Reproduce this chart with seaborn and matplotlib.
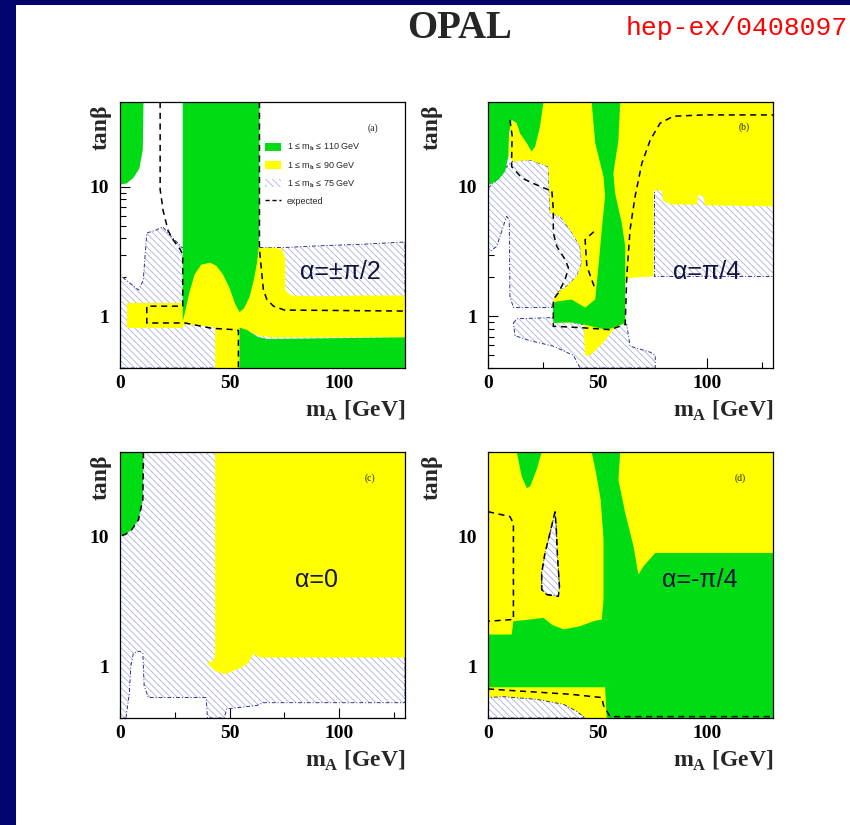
import matplotlib
matplotlib.use("Agg")
import matplotlib.pyplot as plt
import seaborn as sns
from matplotlib.lines import Line2D
from matplotlib.patches import Patch, Rectangle
from matplotlib.ticker import NullFormatter

GREEN = "#00dc14"
YELLOW = "#ffff00"
HATCH_COL = "#a9b1e4"
HATCH_EDGE = "#303090"
NAVY = "#03036e"
HATCH = "\\\\\\\\\\"

X_RANGE = (0, 130)
Y_RANGE = (0.4, 45)

# ---- panel (a): alpha = +-pi/2 ----  (m_A [GeV], tan beta)
a_hatch = [(0, 0.4), (0, 2.08), (8.4, 1.6), (10.6, 1.9), (12.2, 4.4), (16, 4.6),
           (19.5, 4.9), (23, 4.2), (28.3, 3.4), (63.6, 3.4), (75, 3.4), (90, 3.5),
           (110, 3.6), (130, 3.75), (130, 0.4)]
a_yellow_1 = [(3.0, 0.81), (3.0, 1.27), (28.6, 1.27), (28.6, 0.81)]
a_yellow_2 = [(28.6, 0.87), (28.6, 3.0), (63.6, 3.37), (70, 3.4), (74, 3.3), (75.3, 2.8),
              (75.3, 1.6), (78, 1.45), (90, 1.43), (110, 1.45), (130, 1.45), (130, 0.69),
              (70, 0.69), (63, 0.71), (58, 0.78), (54.5, 0.82), (54.5, 0.4), (43.4, 0.4),
              (43.4, 0.83), (36, 0.85)]
a_green_1 = [(0, 45), (10.7, 45), (10.4, 19.3), (8.8, 13.8), (6.1, 11.7), (3, 10.6), (0, 10.4)]
a_green_2 = [(28.6, 45), (28.6, 0.92), (29.5, 1.05), (31.5, 1.5), (34, 2.1), (37, 2.5),
             (41.1, 2.6), (44, 2.45), (47, 2.1), (50, 1.65), (52.5, 1.25), (54.5, 1.08),
             (56.5, 1.15), (59, 1.4), (61, 1.9), (62.5, 2.6), (63.3, 3.5), (63.6, 6), (63.6, 45)]
a_green_3 = [(54.5, 0.4), (54.5, 0.82), (57.8, 0.79), (62.4, 0.7), (67, 0.67), (130, 0.69), (130, 0.4)]
a_expected_1 = [(18.3, 45), (18.3, 9.5), (19, 7.9), (19.6, 6.6), (21.9, 4.6), (24.2, 3.9),
                (27.4, 3.3), (28.6, 3.0), (28.6, 1.2), (12.2, 1.2), (12.2, 0.89), (29.7, 0.89),
                (41.9, 0.81), (52.5, 0.79), (54, 0.78), (54, 0.4)]
a_expected_2 = [(63.6, 45), (63.6, 3.3), (64.5, 2.3), (65.4, 1.6), (67, 1.35), (70, 1.2),
                (75, 1.12), (130, 1.1)]

# ---- panel (b): alpha = pi/4 ----
b_hatch_1 = [(0, 9.76), (4.0, 11.3), (8.5, 14.3), (11.6, 15.9), (19.2, 16.1), (27.5, 14.3),
             (28.3, 6.27), (32.9, 5.91), (37.4, 4.67), (42.0, 3.47), (42.8, 2.59), (40.5, 2.04),
             (35.9, 1.71), (31.4, 1.52), (29.1, 1.17), (11.6, 1.17), (10.0, 1.43), (9.7, 5.57),
             (8.5, 5.91), (4.0, 3.47), (0, 3.09)]
b_hatch_2 = [(11.6, 0.89), (13.1, 0.96), (29.8, 0.98), (42.0, 0.87), (63.3, 0.87), (64.8, 0.59),
             (74.0, 0.53), (76.3, 0.50), (76.3, 0.4), (42.0, 0.4), (39.0, 0.5), (29.8, 0.59),
             (19.2, 0.65), (12.3, 0.71)]
b_hatch_3 = [(75.5, 9.6), (130, 9.6), (130, 2.04), (75.5, 2.04)]
b_yellow = [(9.3, 17.1), (10.0, 32.8), (13.1, 30.9), (25.3, 45), (130, 45), (130, 7.06),
            (99, 7.2), (98.3, 8.4), (96, 8.7), (95.3, 7.3), (83.1, 7.3), (80, 7.8), (79.3, 9.2),
            (77.5, 9.5), (75.5, 9.2), (75.5, 2.04), (64.8, 1.98), (62.6, 1.87), (62.6, 0.89),
            (57.2, 0.79), (52.7, 0.63), (46.6, 0.50), (44.3, 0.50), (43.5, 0.89), (29.8, 0.89),
            (29.8, 1.35), (31.4, 1.52), (35.9, 1.71), (40.5, 2.04), (42.8, 2.59), (42.0, 3.47),
            (37.4, 4.67), (32.9, 5.91), (28.3, 6.27), (27.5, 14.3), (19.2, 16.1), (11.6, 15.6)]
b_green_1 = [(0, 45), (25.3, 45), (23.7, 29), (21.5, 20.4), (19.9, 18.7), (17.7, 21.7),
             (14.6, 25.8), (13.1, 30.9), (10.8, 32.8), (9.6, 25.8), (9.3, 17.1), (7.8, 13.1),
             (4.7, 11.3), (0.9, 10.4), (0, 10.4)]
b_green_2 = [(47.3, 45), (60.3, 45), (59.5, 22.9), (57.2, 12.7), (58.0, 8.9), (61.0, 5.26),
             (62.6, 3.47), (62.6, 0.89), (57.2, 0.82), (54.2, 0.79), (49.6, 0.82), (43.5, 0.87),
             (37.4, 0.9), (29.8, 0.89), (29.5, 1.27), (32.1, 1.31), (38.2, 1.35), (44.3, 1.17),
             (48.9, 1.35), (50.4, 2.44), (51.9, 4.67), (53.4, 8.42), (52.7, 12.0), (48.9, 21.7)]
b_expected_1 = [(10.0, 32.8), (11.0, 25.0), (10.8, 16.0), (10.8, 14.3), (15.4, 11.7),
                (20.7, 10.6), (27.5, 9.48), (29.1, 9.48), (29.8, 6.65), (29.8, 4.4), (31.4, 3.47),
                (35.2, 2.74), (36.7, 2.37), (35.2, 1.93), (32.1, 1.52), (29.8, 1.35), (29.8, 0.84),
                (42.0, 0.82), (55.7, 0.79), (62.6, 0.87), (63.3, 2.04), (64.8, 4.67), (67.1, 8.42),
                (70.2, 15.2), (74.0, 22.9), (78.5, 30.9), (84.6, 35.0), (98.3, 35.8), (130, 35.8)]
b_expected_2 = [(48.4, 1.71), (45.1, 2.44), (44.3, 3.91), (49.3, 4.67)]

# ---- panel (c): alpha = 0 ----
c_hatch = [(0, 45), (130, 45), (130, 0.525), (65.4, 0.525), (62.4, 0.50), (48.7, 0.47),
           (47.5, 0.4), (39.9, 0.4), (39.3, 0.575), (12.9, 0.575), (11.0, 0.71), (10.4, 1.27),
           (8.8, 1.31), (6.1, 1.27), (4.9, 1.0), (4.3, 0.63), (2.7, 0.4), (0, 0.4)]
c_yellow = [(43.4, 45), (130, 45), (130, 1.17), (63.9, 1.17), (61.6, 1.24), (60.1, 1.20),
            (58.6, 1.07), (56.3, 1.0), (53.3, 0.95), (47.9, 0.87), (43.4, 0.92), (39.6, 1.07),
            (42.6, 1.10), (43.4, 1.27)]
c_green = [(0, 45), (10.7, 45), (10.4, 19.3), (8.4, 13.5), (5.3, 11.3), (2.3, 10.4), (0, 10.1)]
c_expected = [(10.7, 45), (10.4, 19.3), (8.4, 13.5), (5.3, 11.3), (2.3, 10.4), (0, 10.1)]

# ---- panel (d): alpha = -pi/4 ----
d_yellow = [(0, 0.4), (0, 45), (130, 45), (130, 0.4)]
d_green_1 = [(13.1, 45), (24.5, 45), (22.2, 32.8), (19.2, 24.4), (17.7, 23.7), (15.4, 29.1)]
d_green_2 = [(47.3, 45), (60.3, 45), (59.5, 27.4), (62.6, 15.2), (66.4, 8.42), (68.6, 5.10),
             (70.9, 5.91), (76.3, 7.49), (130, 7.49), (130, 0.4), (54.2, 0.4), (53.4, 0.69),
             (0, 0.69), (0, 1.76), (10.8, 1.76), (11.6, 2.23), (19.2, 2.30), (25.3, 2.37),
             (29.1, 2.10), (34.4, 1.93), (42.0, 2.04), (48.1, 2.23), (51.9, 2.30), (52.7, 3.28),
             (52.7, 9.48), (51.4, 19.3), (49.3, 30.9)]
d_hatch_1 = [(0, 0.4), (0, 0.575), (7.0, 0.584), (22.2, 0.557), (34.4, 0.51), (40.5, 0.45), (44.3, 0.4)]
d_hatch_2 = [(30.6, 15.6), (28.3, 10.7), (26.0, 7.49), (24.5, 5.26), (24.5, 3.91), (26.8, 3.58),
             (32.1, 3.47), (32.6, 4.14), (31.7, 7.06), (31.1, 12.0)]
d_expected_1 = [(0, 15.6), (10, 14.3), (11.6, 12.7), (11.6, 2.3), (0, 2.23)]
d_expected_2 = [(0, 0.67), (11.6, 0.65), (37.4, 0.61), (51.9, 0.575), (52.7, 0.5),
                (55.7, 0.41), (130, 0.41)]
d_expected_3 = d_hatch_2 + d_hatch_2[:1]

legend_labels = ["1 \u2264 m$_\\mathrm{h}$ \u2264 110 GeV", "1 \u2264 m$_\\mathrm{h}$ \u2264 90 GeV",
                 "1 \u2264 m$_\\mathrm{h}$ \u2264 75 GeV", "expected"]

panels = [
    dict(pos=[0.1412, 0.5539, 0.3353, 0.3224], tag="(a)", alpha="\u03b1=\u00b1\u03c0/2",
         alpha_xy=(0.772, 0.361), tag_xy=(0.888, 0.902), ylab_x=-0.03,
         layers=[("hatch", a_hatch), ("yellow", a_yellow_1), ("yellow", a_yellow_2),
                 ("green", a_green_1), ("green", a_green_2), ("green", a_green_3)],
         expected=[a_expected_1, a_expected_2]),
    dict(pos=[0.5741, 0.5539, 0.3353, 0.3224], tag="(b)", alpha="\u03b1=\u03c0/4",
         alpha_xy=(0.768, 0.361), tag_xy=(0.90, 0.906), ylab_x=-0.158,
         layers=[("hatch", b_hatch_1), ("hatch", b_hatch_2), ("hatch", b_hatch_3),
                 ("yellow", b_yellow), ("green", b_green_1), ("green", b_green_2)],
         expected=[b_expected_1, b_expected_2]),
    dict(pos=[0.1412, 0.1297, 0.3353, 0.3224], tag="(c)", alpha="\u03b1=0",
         alpha_xy=(0.691, 0.519), tag_xy=(0.877, 0.902), ylab_x=-0.03,
         layers=[("hatch", c_hatch), ("yellow", c_yellow), ("green", c_green)],
         expected=[c_expected]),
    dict(pos=[0.5741, 0.1297, 0.3353, 0.3224], tag="(d)", alpha="\u03b1=-\u03c0/4",
         alpha_xy=(0.744, 0.519), tag_xy=(0.884, 0.902), ylab_x=-0.158,
         layers=[("yellow", d_yellow), ("green", d_green_1), ("green", d_green_2),
                 ("hatch", d_hatch_1), ("hatch", d_hatch_2)],
         expected=[d_expected_1, d_expected_2, d_expected_3]),
]


def draw_region(ax, pts, kind, z):
    xs = [p[0] for p in pts]
    ys = [p[1] for p in pts]
    if kind == "hatch":
        ax.fill(xs, ys, facecolor="white", edgecolor=HATCH_COL, hatch=HATCH,
                linewidth=0, zorder=z)
        ax.fill(xs, ys, facecolor="none", edgecolor=HATCH_EDGE, linewidth=0.7,
                linestyle=(0, (4, 2, 1, 2)), zorder=z + 0.05)
    else:
        ax.fill(xs, ys, facecolor=GREEN if kind == "green" else YELLOW,
                edgecolor="none", zorder=z)


sns.set_theme(style="white")
plt.rcParams["hatch.linewidth"] = 0.6
plt.rcParams["hatch.color"] = HATCH_COL
plt.rcParams["mathtext.fontset"] = "custom"
plt.rcParams["mathtext.rm"] = "Liberation Serif:bold"
plt.rcParams["font.family"] = ["Liberation Serif", "DejaVu Sans"]

fig = plt.figure(figsize=(8.5, 8.25), dpi=100, facecolor="white")
fig.add_artist(Rectangle((0, 0), 16 / 850, 1, transform=fig.transFigure,
                         facecolor=NAVY, edgecolor="none", zorder=-1))
fig.add_artist(Rectangle((0, 1 - 5 / 825), 1, 5 / 825, transform=fig.transFigure,
                         facecolor=NAVY, edgecolor="none", zorder=-1))

fig.text(460 / 850, 1 - 28 / 825, "OPAL", ha="center", va="center",
         fontfamily="Liberation Serif", fontweight="bold", fontsize=28)
fig.text(848 / 850, 1 - 28 / 825, "hep-ex/0408097", ha="right", va="center",
         fontfamily="Liberation Mono", fontsize=19, color="#ff0000")

for i, p in enumerate(panels):
    ax = fig.add_axes(p["pos"])
    ax.set_facecolor("white")
    ax.set_yscale("log")
    for j, (kind, pts) in enumerate(p["layers"]):
        draw_region(ax, pts, kind, 1 + 0.2 * j)
    for path in p["expected"]:
        sns.lineplot(x=[q[0] for q in path], y=[q[1] for q in path], sort=False,
                     estimator=None, ax=ax, color="black", linewidth=1.1,
                     linestyle=(0, (4, 3)), zorder=10)

    ax.set_xlim(*X_RANGE)
    ax.set_ylim(*Y_RANGE)
    ax.set_xticks([0, 50, 100])
    ax.set_xticklabels(["0", "50", "100"])
    ax.set_xticks([25, 75, 125], minor=True)
    ax.set_yticks([1, 10])
    ax.set_yticklabels(["1", "10"])
    ax.set_yticks([0.4, 0.5, 0.6, 0.7, 0.8, 0.9, 2, 3, 4, 5, 6, 7, 8, 9, 20, 30, 40], minor=True)
    ax.yaxis.set_minor_formatter(NullFormatter())
    ax.tick_params(which="both", direction="in", left=True, bottom=True, colors="black",
                   width=0.8)
    ax.tick_params(which="major", length=7)
    ax.tick_params(which="minor", length=4)
    ax.tick_params(axis="x", pad=5)
    ax.tick_params(axis="y", pad=8)
    for lab in ax.get_xticklabels() + ax.get_yticklabels():
        lab.set_fontfamily("Liberation Serif")
        lab.set_fontweight("bold")
        lab.set_fontsize(14)
    for s in ax.spines.values():
        s.set_color("black")
        s.set_linewidth(0.9)
        s.set_zorder(20)

    ax.set_xlabel("m$_\\mathrm{A}$ [GeV]", loc="right", fontsize=17, fontweight="bold",
                  fontfamily="Liberation Serif", labelpad=5)
    ax.set_ylabel("tan\u03b2", loc="top", fontsize=17, fontweight="bold",
                  fontfamily="Liberation Serif")
    ax.yaxis.set_label_coords(p["ylab_x"], 0.99)

    ax.text(*p["alpha_xy"], p["alpha"], transform=ax.transAxes, ha="center", va="center",
            fontsize=18, fontfamily="Liberation Sans", color="#151540", zorder=12)
    ax.text(*p["tag_xy"], p["tag"], transform=ax.transAxes, ha="center", va="center",
            fontsize=7, fontfamily="Liberation Serif", zorder=12)

    if i == 0:
        handles = [Patch(facecolor=GREEN, edgecolor="none"),
                   Patch(facecolor=YELLOW, edgecolor="none"),
                   Patch(facecolor="white", edgecolor=HATCH_COL, hatch=HATCH, linewidth=0),
                   Line2D([], [], color="black", linestyle=(0, (3, 2)), linewidth=1)]
        ax.legend(handles, legend_labels, loc="upper left", bbox_to_anchor=(0.509, 0.85),
                  frameon=False, prop={"family": "Liberation Sans", "size": 6.5},
                  handlelength=1.8, handleheight=1.0, labelspacing=0.75, borderpad=0,
                  borderaxespad=0, handletextpad=0.6).set_zorder(15)

fig.savefig("out.png", dpi=100, facecolor="white")
